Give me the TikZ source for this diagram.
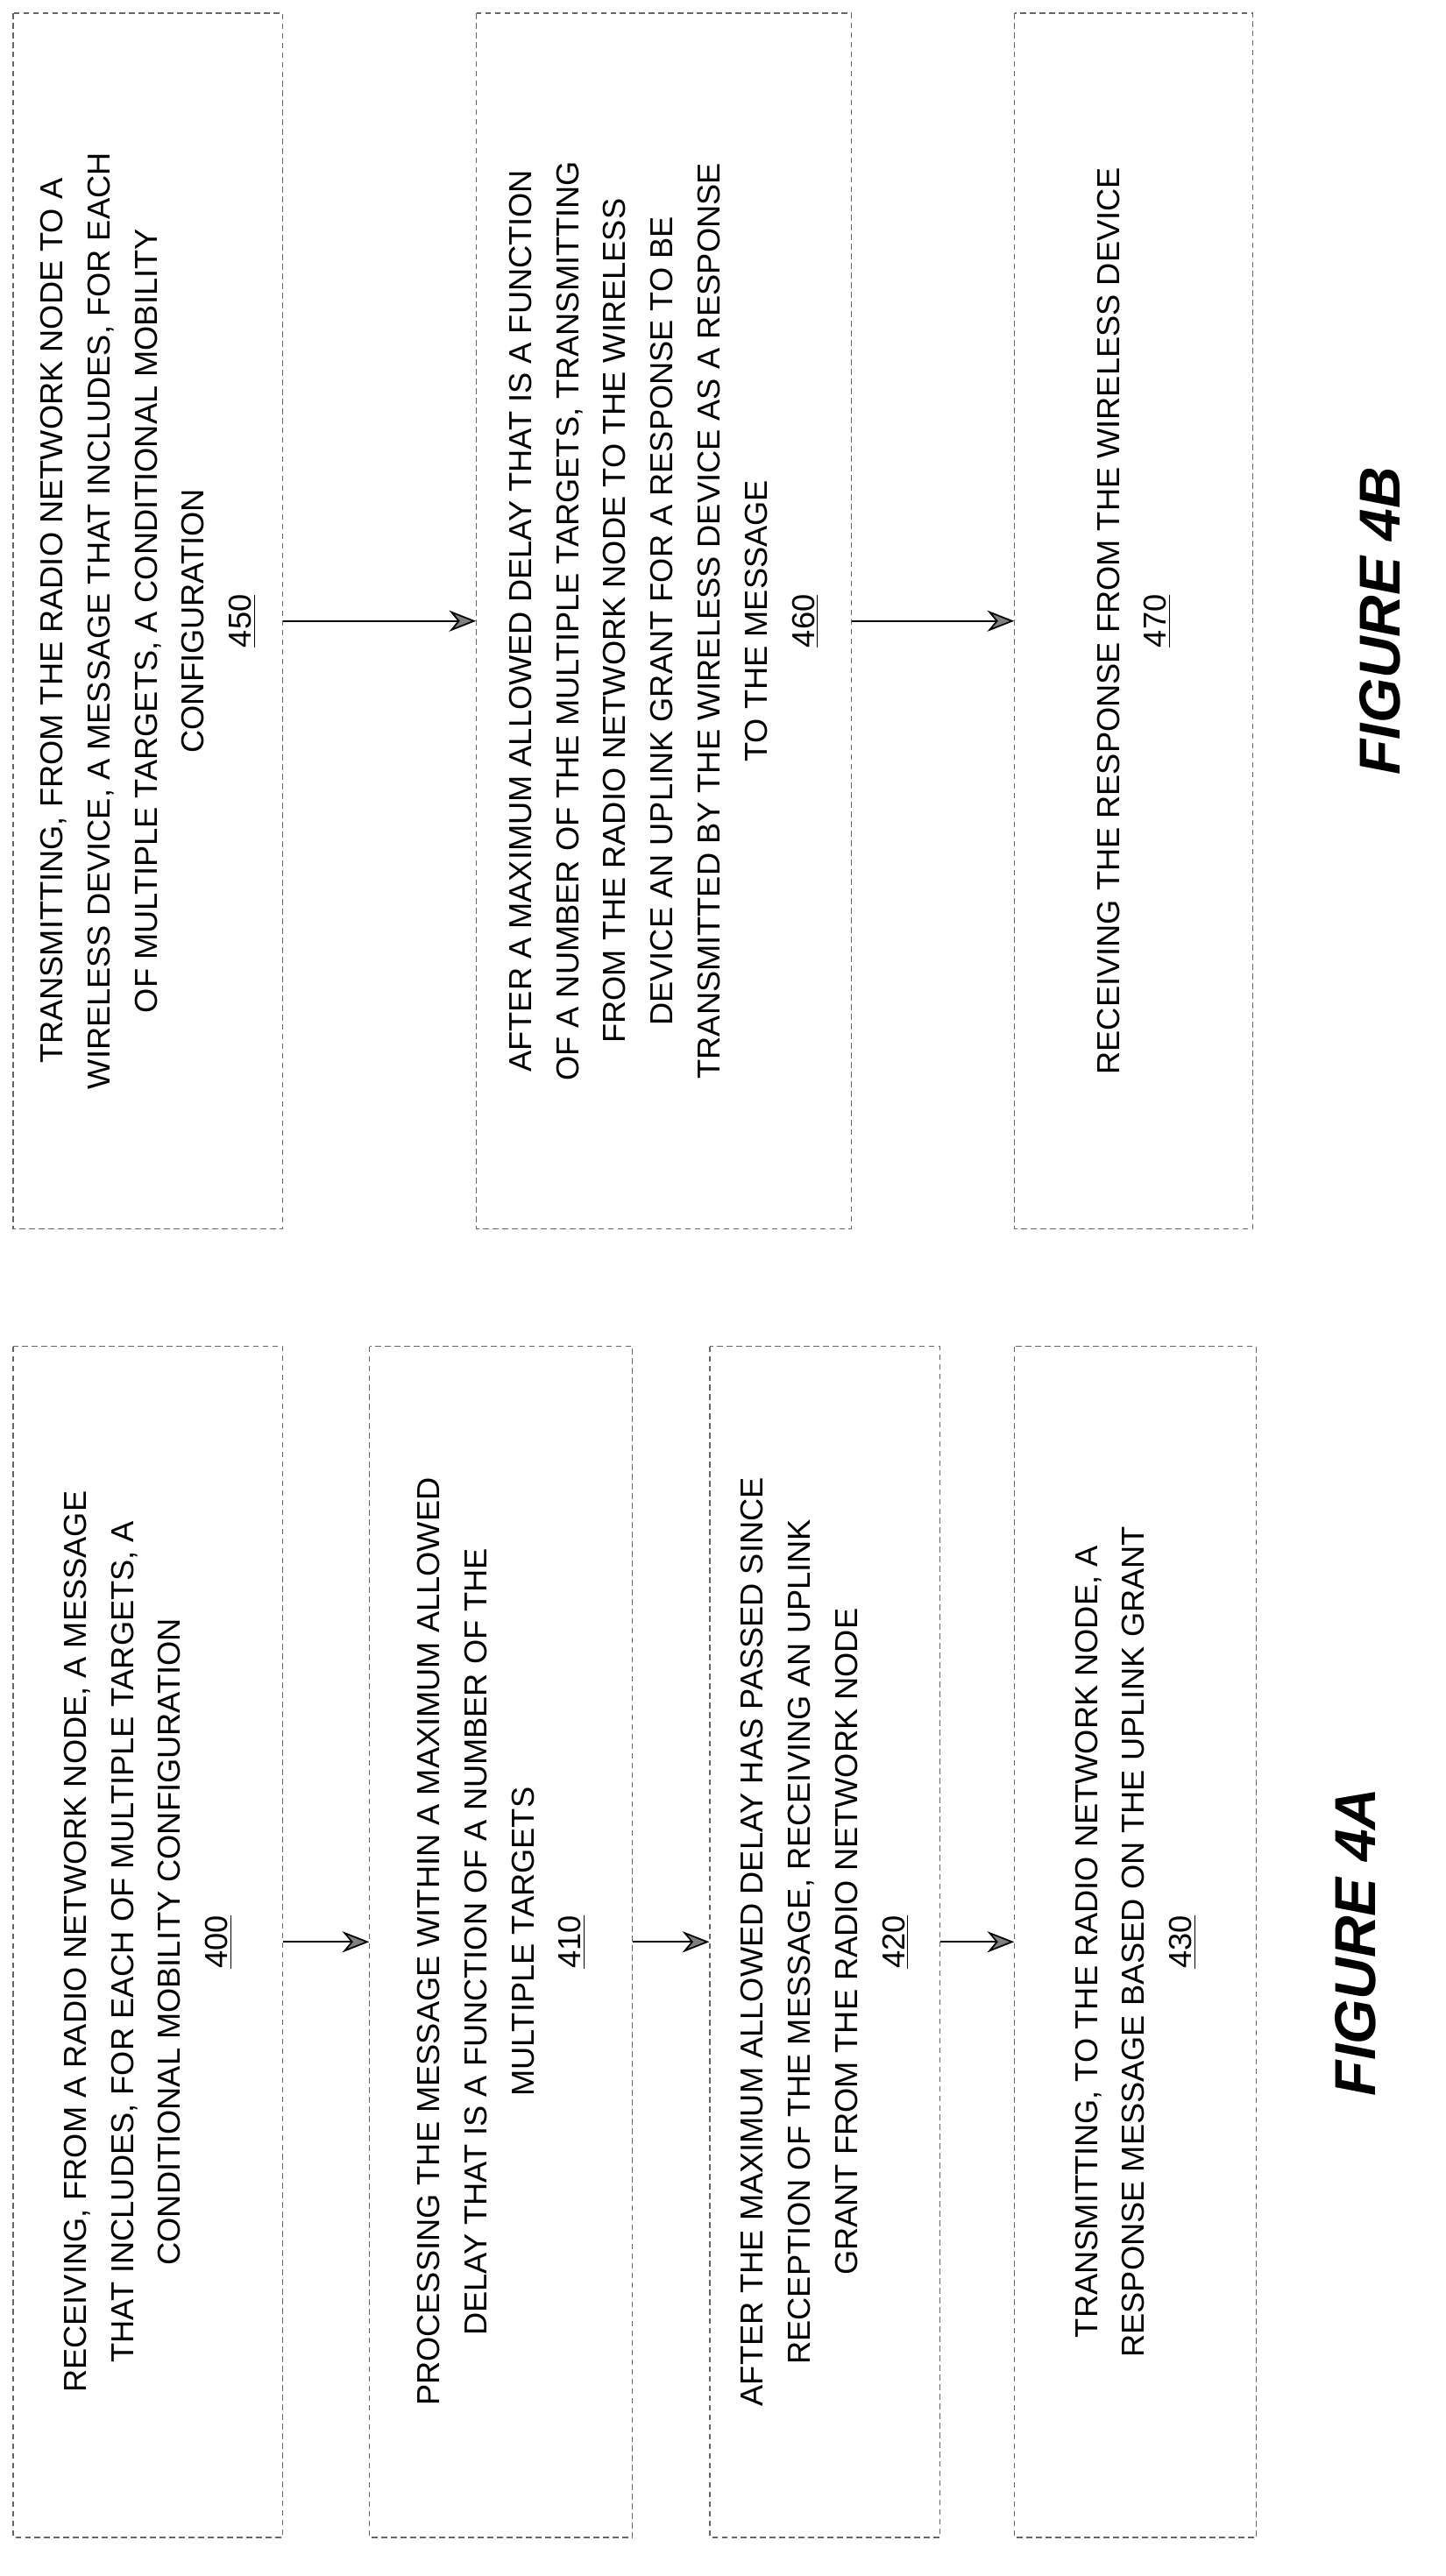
\documentclass[tikz,border=0pt]{standalone}
\usepackage{fontspec}
\setmainfont{Liberation Sans}
\usetikzlibrary{arrows.meta}
\begin{document}
\begin{tikzpicture}[x=0.03cm,y=-0.03cm,
  box/.style={draw=black!60,dash pattern=on 3pt off 2pt,line width=0.5pt,rotate=90,inner sep=0pt,align=center,font=\fontsize{16.5}{24.5}\selectfont},
  arr/.style={-{Stealth[length=14pt,width=11pt,fill=black!50]},line width=0.8pt},
  fig/.style={rotate=90,font=\fontsize{30}{30}\selectfont\bfseries\itshape}]
\useasboundingbox (0,0) rectangle (880,1568);
% Figure 4A
\node[box,minimum width=21.75cm,minimum height=4.92cm] (b400) at (90,1182) {RECEIVING, FROM A RADIO NETWORK NODE, A MESSAGE\\THAT INCLUDES, FOR EACH OF MULTIPLE TARGETS, A\\CONDITIONAL MOBILITY CONFIGURATION\\\underline{400}};
\node[box,minimum width=21.75cm,minimum height=4.8cm] (b410) at (305,1182) {PROCESSING THE MESSAGE WITHIN A MAXIMUM ALLOWED\\DELAY THAT IS A FUNCTION OF A NUMBER OF THE\\MULTIPLE TARGETS\\\underline{410}};
\node[box,minimum width=21.75cm,minimum height=4.2cm] (b420) at (502,1182) {AFTER THE MAXIMUM ALLOWED DELAY HAS PASSED SINCE\\RECEPTION OF THE MESSAGE, RECEIVING AN UPLINK\\GRANT FROM THE RADIO NETWORK NODE\\\underline{420}};
\node[box,minimum width=21.75cm,minimum height=4.41cm] (b430) at (691,1182) {TRANSMITTING, TO THE RADIO NETWORK NODE, A\\RESPONSE MESSAGE BASED ON THE UPLINK GRANT\\\underline{430}};
\draw[arr] (b400.south) -- (b410.north);
\draw[arr] (b410.south) -- (b420.north);
\draw[arr] (b420.south) -- (b430.north);
\node[fig] (f4a) at (825,1182) {FIGURE 4A};
% Figure 4B
\node[box,minimum width=22.2cm,minimum height=4.92cm] (b450) at (90,378) {TRANSMITTING, FROM THE RADIO NETWORK NODE TO A\\WIRELESS DEVICE, A MESSAGE THAT INCLUDES, FOR EACH\\OF MULTIPLE TARGETS, A CONDITIONAL MOBILITY\\CONFIGURATION\\\underline{450}};
\node[box,minimum width=22.2cm,minimum height=6.84cm] (b460) at (404,378) {AFTER A MAXIMUM ALLOWED DELAY THAT IS A FUNCTION\\OF A NUMBER OF THE MULTIPLE TARGETS, TRANSMITTING\\FROM THE RADIO NETWORK NODE TO THE WIRELESS\\DEVICE AN UPLINK GRANT FOR A RESPONSE TO BE\\TRANSMITTED BY THE WIRELESS DEVICE AS A RESPONSE\\TO THE MESSAGE\\\underline{460}};
\node[box,minimum width=22.2cm,minimum height=4.35cm] (b470) at (690,378) {RECEIVING THE RESPONSE FROM THE WIRELESS DEVICE\\\underline{470}};
\draw[arr] (b450.south) -- (b460.north);
\draw[arr] (b460.south) -- (b470.north);
\node[fig] (f4b) at (840,378) {FIGURE 4B};
\end{tikzpicture}
\end{document}
